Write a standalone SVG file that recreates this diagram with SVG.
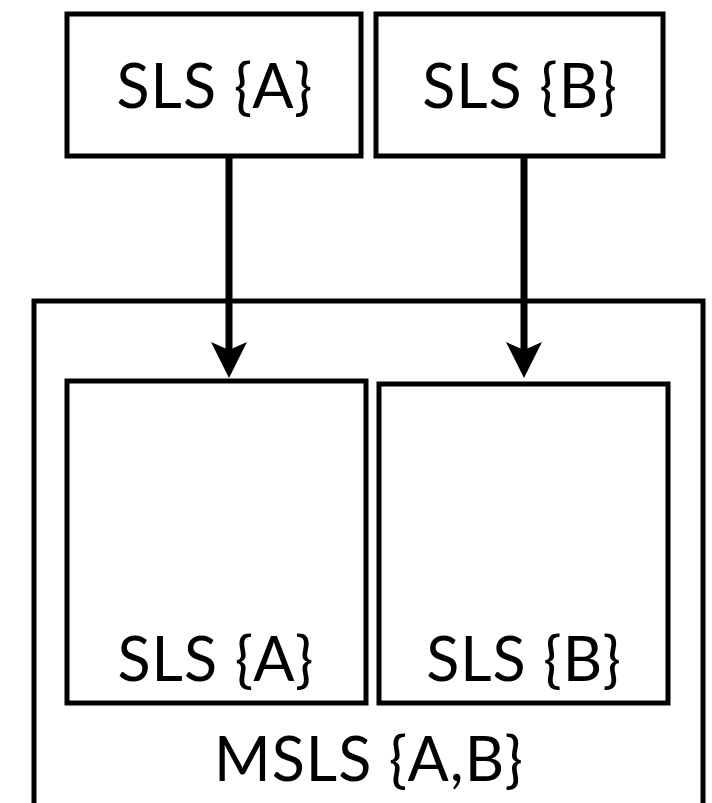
<svg xmlns="http://www.w3.org/2000/svg" width="712" height="803" viewBox="0 0 712 803">
  <style>
    .box { fill: none; stroke: #000; stroke-width: 5; }
    .lbl { font-family: Lato, "Open Sans", "Liberation Sans", sans-serif; font-size: 61px; letter-spacing: 1px; fill: #000; text-anchor: middle; }
    .edge { stroke: #000; stroke-width: 7; fill: none; }
  </style>
  <defs>
    <!-- arrowhead drawn pointing along +x so orient="auto" follows the line -->
    <marker id="head" markerUnits="userSpaceOnUse" markerWidth="36" markerHeight="36" viewBox="0 0 36 36" refX="18" refY="18" orient="auto">
      <path d="M0,0 L8,18 L0,36 L36,18 Z" fill="#000"/>
    </marker>
  </defs>
  <rect width="712" height="803" fill="#fff"/>

  <g id="msls">
    <rect class="box" x="34" y="301" width="669" height="520"/>
    <text class="lbl" x="369" y="781">MSLS {A,B}</text>
  </g>
  <g id="sls-a-top">
    <rect class="box" x="67" y="14" width="294" height="142"/>
    <text class="lbl" x="215" y="108">SLS {A}</text>
  </g>
  <g id="sls-b-top">
    <rect class="box" x="376" y="14" width="287" height="142"/>
    <text class="lbl" x="520" y="108">SLS {B}</text>
  </g>
  <g id="sls-a-inner">
    <rect class="box" x="67" y="381" width="299" height="322"/>
    <text class="lbl" x="216" y="681">SLS {A}</text>
  </g>
  <g id="sls-b-inner">
    <rect class="box" x="379" y="384" width="289" height="319"/>
    <text class="lbl" x="524" y="681">SLS {B}</text>
  </g>

  <g id="connectors">
    <path class="edge" d="M229,158 V360" marker-end="url(#head)"/>
    <path class="edge" d="M524,158 V360" marker-end="url(#head)"/>
  </g>
</svg>
